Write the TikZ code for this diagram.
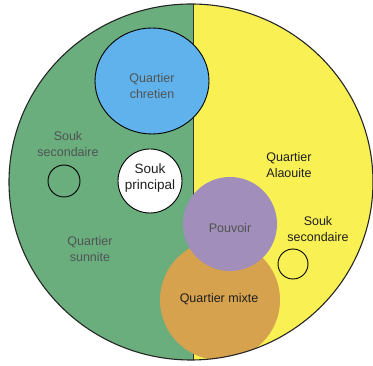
\documentclass[tikz,border=0pt]{standalone}
\usepackage{fontspec}
\setmainfont{Liberation Sans}
\usetikzlibrary{shapes.geometric}
\definecolor{sunni}{RGB}{106,174,126}
\definecolor{alaw}{RGB}{249,240,84}
\definecolor{chret}{RGB}{96,178,236}
\definecolor{pouv}{RGB}{162,142,186}
\definecolor{mixte}{RGB}{214,162,78}
\definecolor{greytxt}{RGB}{80,84,82}
\tikzset{
  lbl/.style={font=\fontsize{12.5}{15.5}\selectfont, align=center, text=black!88, inner sep=0pt},
  glbl/.style={lbl, text=greytxt},
  ring/.style={circle, draw=black, line width=0.9pt, inner sep=0pt},
  blob/.style={circle, inner sep=0pt}
}
\begin{document}
\begin{tikzpicture}[x=1pt,y=-1pt]
\useasboundingbox (0,0) rectangle (373,366);
\node[ellipse, minimum width=364pt, minimum height=356pt, inner sep=0pt] (city) at (191,182) {};
\coordinate (dtop) at (193,-5);
\coordinate (dbot) at (193,370);
\begin{scope}
  \clip (191,182) ellipse [x radius=182, y radius=178];
  \fill[sunni] (0,-5) rectangle (193,370);
  \fill[alaw] (193,-5) rectangle (380,370);
  \draw[line width=0.8pt, black!80] (dtop) -- (dbot);
  \node[blob, fill=mixte, minimum size=120pt] (mixte) at (220,300) {};
  \node[blob, fill=pouv, minimum size=94pt] (pouvoir) at (230,224) {};
  \node[ellipse, draw=black, line width=0.9pt, fill=chret, minimum width=114pt, minimum height=106pt, inner sep=0pt] (chretien) at (152,81) {};
  \node[ring, fill=white, minimum size=64pt] (soukp) at (150,181) {};
  \node[ring, minimum size=32pt] (souksg) at (64,181) {};
  \node[ring, minimum size=30pt] (souksd) at (293,264) {};
\end{scope}
\draw[line width=1.1pt, black!85] (191,182) ellipse [x radius=182, y radius=178];
\node[glbl] (tchret) at (152,86) {Quartier\\chretien};
\node[lbl, font=\fontsize{13.5}{15.5}\selectfont] (tsoukp) at (150,178) {Souk\\principal};
\node[glbl] (tsouksg) at (68,144) {Souk\\secondaire};
\node[glbl] (tsunni) at (90,249) {Quartier\\sunnite};
\node[lbl] (talaw) at (289,165) {Quartier\\Alaouite};
\node[glbl] (tpouv) at (230,228) {Pouvoir};
\node[lbl] (tsouksd) at (318,229) {Souk\\secondaire};
\node[lbl] (tmixte) at (219,299) {Quartier mixte};
\end{tikzpicture}
\end{document}
